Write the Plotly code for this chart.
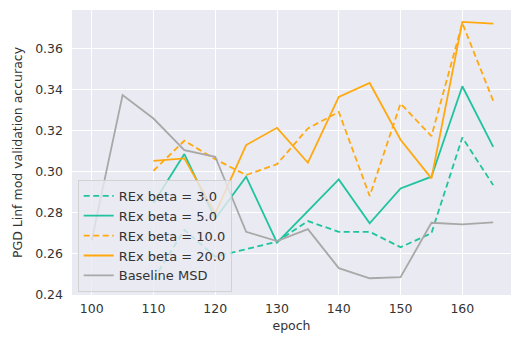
import plotly.graph_objects as go

# Validation accuracy per epoch for each run
epochs = [100, 105, 110, 115, 120, 125, 130, 135, 140, 145, 150, 155, 160, 165]
rex_epochs = [110, 115, 120, 125, 130, 135, 140, 145, 150, 155, 160, 165]

rex_beta_3 = [0.2475, 0.2716, 0.2586, 0.2623, 0.2659, 0.2759, 0.2707, 0.2707,
              0.2632, 0.2700, 0.3166, 0.2934]
rex_beta_5 = [0.2847, 0.3085, 0.2770, 0.2975, 0.2654, 0.2808, 0.2962, 0.2748,
              0.2918, 0.2975, 0.3415, 0.3120]
rex_beta_10 = [0.3004, 0.3150, 0.3060, 0.2983, 0.3036, 0.3210, 0.3290, 0.2881,
               0.3331, 0.3172, 0.3722, 0.3344]
rex_beta_20 = [0.3052, 0.3064, 0.2797, 0.3129, 0.3213, 0.3043, 0.3363, 0.3431,
               0.3155, 0.2967, 0.3728, 0.3720]
baseline_msd = [0.2665, 0.3372, 0.3258, 0.3104, 0.3072, 0.2707, 0.2662, 0.2720,
                0.2530, 0.2481, 0.2486, 0.2751, 0.2743, 0.2753]

y_ticks = [0.24, 0.26, 0.28, 0.30, 0.32, 0.34, 0.36]
x_ticks = [100, 110, 120, 130, 140, 150, 160]

TEAL = "#1fc49e"
ORANGE = "#ffa90f"
GRAY = "#a8a8a8"
TEXT = "#333333"
DASH = "6px,3.5px"
LW = 1.8
FONT = "DejaVu Sans"

series = [
    ("REx beta = 3.0", rex_epochs, rex_beta_3, TEAL, DASH),
    ("REx beta = 5.0", rex_epochs, rex_beta_5, TEAL, "solid"),
    ("REx beta = 10.0", rex_epochs, rex_beta_10, ORANGE, DASH),
    ("REx beta = 20.0", rex_epochs, rex_beta_20, ORANGE, "solid"),
    ("Baseline MSD", epochs, baseline_msd, GRAY, "solid"),
]

fig = go.Figure()
for name, xs, ys, color, dash in series:
    fig.add_trace(go.Scatter(
        x=xs, y=ys, mode="lines", name=name,
        line=dict(color=color, width=LW, dash=dash),
    ))

fig.update_layout(
    width=511, height=337,
    margin=dict(l=72, r=0, t=10, b=42),
    paper_bgcolor="white",
    plot_bgcolor="#eaeaf2",
    font=dict(family=FONT, size=12.5, color=TEXT),
    showlegend=True,
    legend=dict(
        x=0.013, y=0.011, xanchor="left", yanchor="bottom",
        bgcolor="rgba(234,234,242,0.8)",
        bordercolor="rgba(204,204,204,0.8)", borderwidth=1,
        font=dict(family=FONT, size=13, color=TEXT),
        tracegroupgap=0, itemwidth=30,
    ),
    xaxis=dict(
        range=[96.81, 167.88],
        tickvals=x_ticks,
        tickfont=dict(family=FONT, size=12.5, color=TEXT),
        showgrid=True, gridcolor="white", gridwidth=1.2,
        zeroline=False, showline=False,
        ticks="", ticklabelstandoff=4,
        title=dict(text="epoch", standoff=6,
                   font=dict(family=FONT, size=12.5, color=TEXT)),
    ),
    yaxis=dict(
        range=[0.23995, 0.3786],
        tickvals=y_ticks, tickformat=".2f",
        tickfont=dict(family=FONT, size=12.5, color=TEXT),
        showgrid=True, gridcolor="white", gridwidth=1.2,
        zeroline=False, showline=False,
        ticks="", ticklabelstandoff=8,
        title=dict(text="PGD Linf mod validation accuracy", standoff=9,
                   font=dict(family=FONT, size=12.5, color=TEXT)),
    ),
)

fig.write_html("out.html")
